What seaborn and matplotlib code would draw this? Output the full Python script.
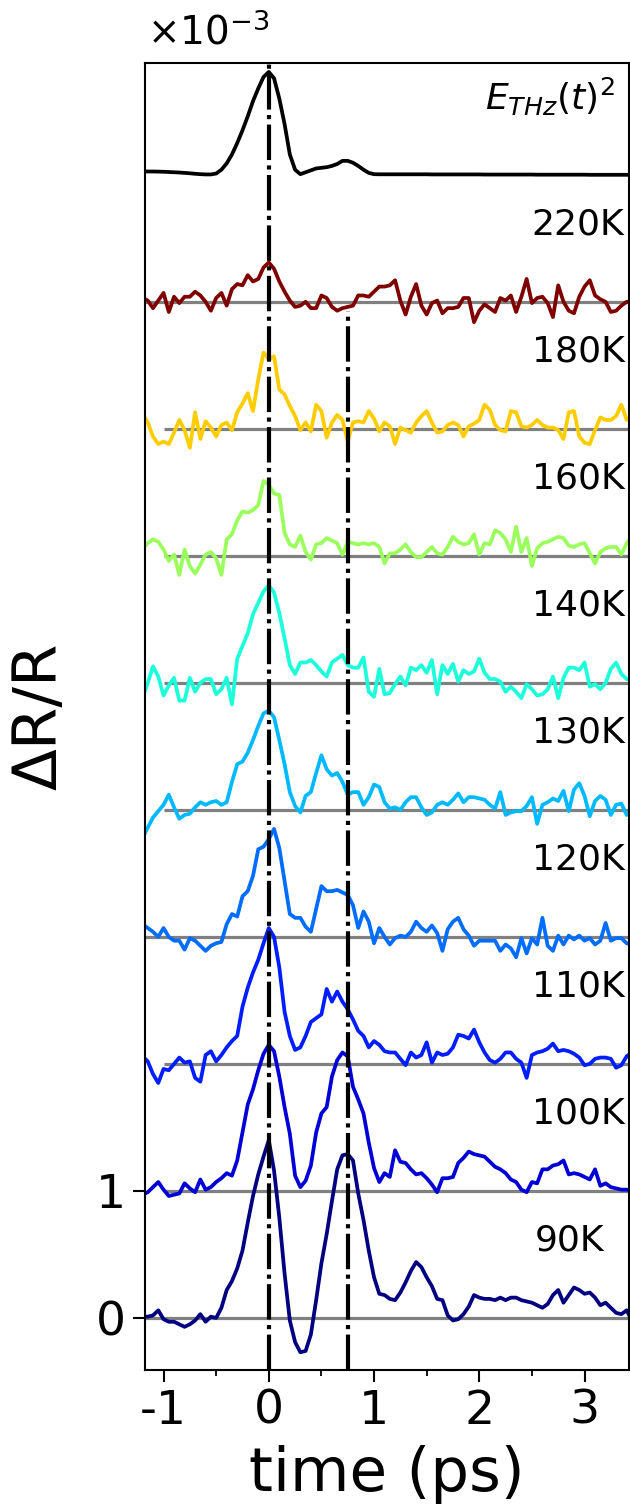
import numpy as np
import matplotlib
matplotlib.use("Agg")
import matplotlib.pyplot as plt
import seaborn as sns
from matplotlib.ticker import FuncFormatter, MultipleLocator

# pump-probe delay (ps)
time_ps = [-1.20, -1.15, -1.10, -1.05, -1.00, -0.95, -0.90, -0.85, -0.80, -0.75,
           -0.70, -0.65, -0.60, -0.55, -0.50, -0.45, -0.40, -0.35, -0.30, -0.25,
           -0.20, -0.15, -0.10, -0.05, 0.00, 0.05, 0.10, 0.15, 0.20, 0.25,
           0.30, 0.35, 0.40, 0.45, 0.50, 0.55, 0.60, 0.65, 0.70, 0.75,
           0.80, 0.85, 0.90, 0.95, 1.00, 1.05, 1.10, 1.15, 1.20, 1.25,
           1.30, 1.35, 1.40, 1.45, 1.50, 1.55, 1.60, 1.65, 1.70, 1.75,
           1.80, 1.85, 1.90, 1.95, 2.00, 2.05, 2.10, 2.15, 2.20, 2.25,
           2.30, 2.35, 2.40, 2.45, 2.50, 2.55, 2.60, 2.65, 2.70, 2.75,
           2.80, 2.85, 2.90, 2.95, 3.00, 3.05, 3.10, 3.15, 3.20, 3.25,
           3.30, 3.35, 3.40, 3.45]

# E_THz(t)^2 reference, same units as dR/R (x1e-3)
thz_field_sq = [0.026, 0.026, 0.026, 0.025, 0.024, 0.022, 0.020, 0.018, 0.015, 0.012,
                0.008, 0.005, 0.003, 0.003, 0.010, 0.040, 0.090, 0.160, 0.250, 0.350,
                0.460, 0.580, 0.680, 0.770, 0.810, 0.760, 0.600, 0.400, 0.160, 0.040,
                0.005, 0.020, 0.035, 0.050, 0.055, 0.060, 0.070, 0.085, 0.110, 0.110,
                0.095, 0.070, 0.040, 0.015, 0.005, 0.004, 0.004, 0.004, 0.004, 0.004,
                0.004, 0.004, 0.004, 0.004, 0.004, 0.003, 0.003, 0.003, 0.003, 0.003,
                0.003, 0.003, 0.003, 0.003, 0.003, 0.002, 0.002, 0.002, 0.002, 0.002,
                0.002, 0.002, 0.002, 0.002, 0.002, 0.001, 0.001, 0.001, 0.001, 0.001,
                0.001, 0.001, 0.001, 0.001, 0.001, 0.000, 0.000, 0.000, 0.000, 0.000,
                0.000, 0.000, 0.000, 0.000]

temperatures = [90, 100, 110, 120, 130, 140, 160, 180, 220]

# dR/R (x1e-3) for each temperature
dr_90K = [0.01, 0.01, 0.02, 0.06, -0.01, -0.03, -0.03, -0.05, -0.07, -0.05,
          -0.02, 0.03, -0.03, 0.01, 0.00, 0.08, 0.22, 0.29, 0.39, 0.53,
          0.75, 0.96, 1.13, 1.27, 1.40, 1.16, 0.79, 0.35, -0.02, -0.19,
          -0.27, -0.26, -0.13, 0.14, 0.43, 0.66, 0.92, 1.17, 1.28, 1.29,
          1.24, 0.98, 0.77, 0.53, 0.32, 0.19, 0.18, 0.15, 0.14, 0.20,
          0.28, 0.37, 0.44, 0.40, 0.32, 0.25, 0.15, 0.14, 0.02, -0.02,
          -0.01, 0.03, 0.09, 0.18, 0.16, 0.15, 0.15, 0.14, 0.16, 0.14,
          0.16, 0.16, 0.14, 0.13, 0.12, 0.10, 0.08, 0.11, 0.18, 0.22,
          0.12, 0.18, 0.24, 0.22, 0.19, 0.20, 0.16, 0.10, 0.12, 0.08,
          0.04, 0.03, 0.06, -0.02]
dr_100K = [-0.03, -0.01, 0.03, 0.07, 0.01, -0.04, -0.03, -0.02, 0.06, 0.02,
           -0.01, 0.09, 0.01, 0.03, 0.07, 0.10, 0.14, 0.12, 0.24, 0.46,
           0.68, 0.80, 0.95, 1.08, 1.15, 1.10, 0.90, 0.66, 0.45, 0.12,
           0.03, 0.08, 0.20, 0.46, 0.61, 0.66, 0.90, 1.03, 1.09, 1.06,
           0.82, 0.72, 0.61, 0.38, 0.18, 0.07, 0.14, 0.11, 0.32, 0.23,
           0.22, 0.17, 0.13, 0.14, 0.10, 0.05, -0.01, 0.10, 0.10, 0.11,
           0.22, 0.26, 0.31, 0.29, 0.28, 0.27, 0.23, 0.19, 0.17, 0.14,
           0.09, 0.07, 0.01, -0.01, 0.07, 0.06, 0.17, 0.17, 0.20, 0.21,
           0.24, 0.13, 0.14, 0.13, 0.11, 0.09, 0.17, 0.04, 0.06, 0.03,
           0.02, 0.01, 0.01, 0.00]
dr_110K = [0.06, 0.02, -0.08, -0.15, -0.04, -0.05, 0.00, 0.05, 0.01, 0.02,
           -0.11, -0.14, 0.07, 0.10, 0.02, 0.07, 0.13, 0.18, 0.22, 0.45,
           0.60, 0.72, 0.82, 0.95, 1.07, 1.00, 0.76, 0.41, 0.22, 0.11,
           0.13, 0.22, 0.33, 0.36, 0.39, 0.59, 0.49, 0.57, 0.49, 0.43,
           0.35, 0.26, 0.22, 0.13, 0.18, 0.15, 0.10, 0.09, 0.09, 0.04,
           -0.01, 0.09, 0.05, 0.07, 0.17, 0.01, 0.09, 0.07, 0.08, 0.13,
           0.23, 0.22, 0.20, 0.27, 0.17, 0.09, 0.03, 0.01, 0.04, 0.09,
           0.09, 0.04, 0.01, -0.11, 0.07, 0.09, 0.10, 0.12, 0.16, 0.10,
           0.11, 0.10, 0.08, 0.05, -0.01, 0.00, 0.04, 0.05, 0.05, 0.04,
           -0.03, -0.01, 0.06, 0.09]
dr_120K = [0.10, 0.07, 0.04, 0.00, 0.07, 0.00, -0.03, -0.03, -0.10, -0.01,
           -0.03, -0.07, -0.11, -0.07, -0.05, -0.04, 0.10, 0.18, 0.16, 0.32,
           0.36, 0.48, 0.69, 0.71, 0.77, 0.85, 0.70, 0.44, 0.18, 0.15,
           0.15, 0.08, 0.04, 0.22, 0.40, 0.36, 0.36, 0.37, 0.35, 0.33,
           0.25, 0.07, 0.20, 0.12, -0.05, 0.07, 0.00, -0.06, -0.01, 0.01,
           0.00, 0.04, 0.12, 0.07, 0.04, 0.09, 0.03, -0.11, 0.06, 0.12,
           0.15, 0.06, 0.01, -0.07, -0.03, -0.03, -0.03, -0.03, -0.11, -0.06,
           -0.09, -0.16, -0.01, -0.13, -0.01, -0.06, 0.15, -0.07, -0.11, 0.01,
           -0.06, 0.01, -0.02, 0.01, -0.03, -0.01, -0.06, -0.03, 0.11, -0.03,
           -0.01, -0.01, -0.05, -0.06]
dr_130K = [-0.22, -0.14, -0.06, -0.01, 0.04, 0.12, 0.02, -0.07, -0.04, -0.03,
           0.02, 0.06, 0.04, 0.06, 0.07, 0.04, 0.06, 0.22, 0.36, 0.38,
           0.45, 0.55, 0.66, 0.76, 0.78, 0.73, 0.55, 0.36, 0.14, 0.03,
           -0.02, 0.11, 0.14, 0.29, 0.43, 0.32, 0.27, 0.29, 0.22, 0.12,
           0.14, 0.14, 0.04, 0.10, 0.20, 0.18, 0.06, 0.01, 0.02, 0.00,
           0.06, 0.10, 0.10, 0.02, -0.04, -0.02, 0.04, 0.06, 0.04, 0.08,
           0.13, 0.06, 0.10, 0.10, 0.09, 0.08, 0.04, 0.01, 0.14, -0.04,
           -0.02, -0.01, -0.01, 0.03, 0.10, -0.11, 0.04, 0.06, 0.09, 0.07,
           0.15, -0.01, 0.16, 0.21, 0.11, -0.05, 0.07, 0.11, 0.08, -0.04,
           0.04, 0.05, -0.04, -0.02]
dr_140K = [-0.12, 0.00, 0.13, 0.05, -0.10, -0.02, 0.04, -0.14, -0.14, 0.04,
           -0.07, 0.00, 0.03, 0.03, -0.09, -0.05, 0.04, -0.17, 0.19, 0.29,
           0.39, 0.54, 0.63, 0.72, 0.77, 0.71, 0.55, 0.35, 0.14, 0.07,
           0.16, 0.16, 0.18, 0.14, 0.09, 0.05, 0.16, 0.19, 0.22, 0.14,
           0.12, 0.12, 0.20, -0.07, -0.11, 0.11, -0.09, -0.08, -0.01, 0.05,
           -0.02, 0.12, 0.10, 0.14, 0.08, 0.18, -0.09, 0.14, 0.07, 0.15,
           0.01, 0.10, 0.07, 0.09, 0.19, 0.08, 0.03, 0.03, 0.01, -0.07,
           -0.03, -0.07, -0.12, -0.01, -0.05, -0.10, -0.09, -0.05, 0.05, -0.12,
           0.04, 0.12, 0.12, 0.10, 0.16, -0.03, -0.01, -0.05, 0.00, 0.11,
           0.16, 0.07, 0.03, 0.03]
dr_160K = [0.06, 0.10, 0.13, 0.11, 0.05, -0.04, 0.01, -0.15, 0.05, -0.08,
           -0.14, -0.07, 0.01, 0.03, -0.02, -0.15, 0.13, 0.17, 0.28, 0.35,
           0.34, 0.36, 0.40, 0.59, 0.56, 0.49, 0.48, 0.18, 0.09, 0.07,
           0.16, 0.03, -0.03, 0.09, 0.10, 0.14, 0.12, 0.10, 0.01, 0.11,
           0.10, 0.09, 0.10, 0.09, 0.10, 0.07, -0.06, 0.02, 0.02, 0.05,
           0.09, 0.03, -0.01, -0.01, 0.03, 0.07, 0.02, 0.01, 0.07, 0.15,
           0.11, 0.09, 0.10, 0.17, 0.01, 0.10, 0.09, 0.20, 0.18, 0.13,
           0.03, 0.23, 0.03, 0.14, -0.08, 0.06, 0.10, 0.11, 0.13, 0.15,
           0.14, 0.08, 0.07, 0.09, 0.10, 0.02, -0.06, 0.03, 0.06, 0.07,
           0.07, 0.01, 0.10, 0.15]
dr_180K = [0.12, 0.05, -0.06, -0.12, -0.10, -0.12, -0.03, 0.07, -0.01, -0.15,
           0.13, -0.08, 0.06, 0.01, -0.06, 0.03, 0.05, -0.01, 0.13, 0.20,
           0.28, 0.14, 0.39, 0.60, 0.55, 0.57, 0.31, 0.27, 0.18, 0.10,
           -0.01, 0.05, -0.02, 0.19, 0.14, -0.07, 0.05, 0.11, 0.07, -0.10,
           0.05, 0.06, 0.05, 0.14, 0.08, -0.02, 0.05, 0.02, -0.12, 0.01,
           -0.01, -0.03, 0.05, 0.10, 0.14, 0.05, -0.03, -0.02, 0.03, 0.05,
           0.03, -0.06, 0.02, 0.04, 0.07, 0.19, 0.15, 0.03, -0.01, -0.02,
           0.14, 0.13, 0.02, 0.01, 0.03, 0.07, 0.03, 0.01, 0.01, -0.01,
           -0.08, 0.13, 0.14, -0.06, -0.11, -0.12, -0.01, 0.09, 0.07, 0.07,
           0.10, 0.19, 0.07, 0.10]
dr_220K = [0.03, 0.01, -0.05, 0.01, 0.07, -0.08, 0.04, -0.01, 0.04, 0.04,
           0.08, 0.05, 0.00, -0.07, 0.03, 0.07, -0.03, 0.10, 0.14, 0.13,
           0.21, 0.16, 0.18, 0.27, 0.31, 0.26, 0.16, 0.08, 0.01, -0.04,
           -0.03, 0.00, -0.05, -0.05, 0.05, 0.03, -0.04, -0.07, -0.05, -0.04,
           -0.03, 0.05, 0.05, 0.04, 0.08, 0.12, 0.12, 0.13, 0.17, 0.01,
           -0.10, 0.04, 0.14, -0.03, -0.10, -0.01, 0.01, -0.09, -0.05, -0.05,
           -0.04, 0.03, 0.03, -0.16, -0.07, -0.02, -0.05, -0.08, 0.03, 0.01,
           0.05, -0.08, 0.04, 0.18, -0.01, 0.03, 0.04, -0.01, -0.12, 0.13,
           0.00, -0.07, -0.09, 0.04, 0.12, 0.17, 0.05, 0.02, 0.00, -0.08,
           -0.07, -0.03, 0.00, 0.00]

traces = [dr_90K, dr_100K, dr_110K, dr_120K, dr_130K, dr_140K, dr_160K, dr_180K, dr_220K]
baseline_start = [-1.18, -1.0, -1.0, -1.18, -1.0, -1.0, -1.0, -1.0, -1.18]
label_x = [3.19, 3.38, 3.38, 3.38, 3.38, 3.38, 3.38, 3.38, 3.38]
peak_times = [0.0, 0.755]

scale = 1e-3
x_lo, x_hi = -1.18, 3.42
y_lo, y_hi = -0.41, 9.88

sns.set_style("ticks")
plt.rcParams["font.family"] = ["DejaVu Sans"]
plt.rcParams["axes.unicode_minus"] = False
plt.rcParams["text.color"] = "black"
plt.rcParams["axes.labelcolor"] = "black"
plt.rcParams["xtick.color"] = "black"
plt.rcParams["ytick.color"] = "black"

fig = plt.figure(figsize=(6.3, 15.08), dpi=100)
ax = fig.add_axes([0.2295, 0.0915, 0.7685, 0.8667])

jet = plt.get_cmap("jet")
t = np.array(time_ps)

for i, (temp, trace) in enumerate(zip(temperatures, traces)):
    color = jet((temp - temperatures[0]) / (temperatures[-1] - temperatures[0]))
    ax.hlines(i * scale, baseline_start[i], 3.6, colors="grey", lw=2.3, zorder=1)
    sns.lineplot(x=t, y=(np.array(trace) + i) * scale, color=color, lw=2.7,
                 ax=ax, zorder=2, estimator=None, sort=False)
    ax.text(label_x[i], (i + 0.61) * scale, f"{temp}K", ha="right", va="center", fontsize=26)

# THz field squared on top
top = len(temperatures)
sns.lineplot(x=t, y=(np.array(thz_field_sq) + top) * scale, color="black", lw=2.7,
             ax=ax, zorder=2, estimator=None, sort=False)
ax.text(3.29, (top + 0.61) * scale, r"$E_{THz}(t)^2$", ha="right", va="center", fontsize=26)

# guide lines at the two peak positions
dd = (0, (8.5, 1.3, 1.0, 1.3))
ax.vlines(peak_times[0], y_lo * scale, y_hi * scale, colors="black", linestyles=[dd], lw=3, zorder=3)
ax.vlines(peak_times[1], y_lo * scale, 7.93 * scale, colors="black", linestyles=[dd], lw=3, zorder=3)

ax.set_xlim(x_lo, x_hi)
ax.set_ylim(y_lo * scale, y_hi * scale)
ax.set_xticks([-1, 0, 1, 2, 3])
ax.set_xticklabels(["-1", "0", "1", "2", "3"])
ax.xaxis.set_minor_locator(MultipleLocator(0.5))
ax.set_yticks([0, 1 * scale])
ax.yaxis.set_major_formatter(FuncFormatter(lambda v, pos: f"{v / scale:.0f}"))
ax.text(0.005, 1.008, r"$\times10^{-3}$", transform=ax.transAxes, ha="left", va="bottom", fontsize=28)

ax.tick_params(axis="both", which="major", labelsize=34, length=8.5, width=1.5, pad=5)
ax.tick_params(axis="x", which="minor", length=4.5, width=1.3)
for sp in ax.spines.values():
    sp.set_linewidth(1.5)
    sp.set_color("black")

ax.set_xlabel("time (ps)", fontsize=44, labelpad=8)
ax.set_ylabel("ΔR/R", fontsize=44)
ax.yaxis.set_label_coords(-0.155, 0.5)

fig.savefig("out.png", dpi=100)
